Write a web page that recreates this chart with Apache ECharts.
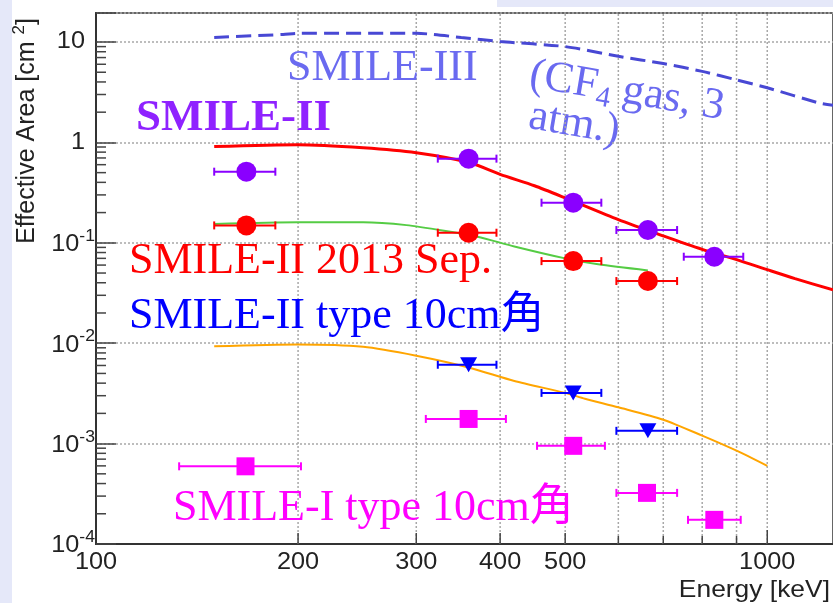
<!DOCTYPE html>
<html>
<head>
<meta charset="utf-8">
<script src="https://cdn.jsdelivr.net/npm/echarts@6/dist/echarts.min.js"></script>
<style>
  html, body { margin: 0; padding: 0; background: #fff; }
  #chart { width: 833px; height: 603px; }
</style>
</head>
<body>
<div id="chart"></div>
<script>
// ---- measured points (energy in keV, horizontal bin edges, effective area in cm^2) ----
const smile2E    = [167.5, 359, 514, 664, 834];
const smile2Lo   = [150, 323, 461, 596, 751];
const smile2Hi   = [185, 395, 566, 734, 921];
const smile2Area = [0.511, 0.689, 0.251, 0.134, 0.0727];

const sepE    = [167.5, 359, 514, 664];
const sepLo   = [150, 323, 461, 596];
const sepHi   = [185, 395, 566, 734];
const sepArea = [0.149, 0.126, 0.0657, 0.0416];

const type10E    = [359, 514, 664];
const type10Lo   = [323, 461, 596];
const type10Hi   = [395, 566, 734];
const type10Area = [0.0061, 0.0032, 0.00134];

const smile1E    = [167, 359, 514, 662, 834];
const smile1Lo   = [133, 310, 454, 596, 762];
const smile1Hi   = [202, 408, 573, 734, 913];
const smile1Area = [0.000594, 0.00176, 0.00095, 0.000323, 0.000174];

// ---- simulated curves ----
const smile3CurveE = [150, 190, 200, 300, 350, 400, 500, 600, 700, 800, 900, 1000, 1200, 1253];
const smile3CurveA = [11.1, 11.9, 12.2, 12.2, 11.1, 10.1, 9.0, 7.2, 6.1, 5.1, 4.2, 3.5, 2.45, 2.35];

const smile2CurveE = [150, 200, 250, 300, 360, 400, 450, 500, 600, 700, 800, 900, 1000, 1100, 1253];
const smile2CurveA = [0.91, 0.95, 0.885, 0.79, 0.63, 0.48, 0.37, 0.28, 0.17, 0.117, 0.086, 0.068, 0.054, 0.044, 0.034];

const sepCurveE = [150, 200, 250, 290, 330, 370, 420, 500, 560, 664];
const sepCurveA = [0.154, 0.16, 0.16, 0.15, 0.132, 0.115, 0.092, 0.07, 0.061, 0.053];

const type10CurveE = [150, 200, 250, 300, 360, 420, 500, 535, 600, 700, 800, 900, 1000];
const type10CurveA = [0.0093, 0.0097, 0.0092, 0.0075, 0.0057, 0.0042, 0.0032, 0.0028, 0.0023, 0.00173, 0.0012, 0.00085, 0.0006];

// ---- axis furniture ----
const xMin = 100, xMax = 1253;
const yMin = 1e-4, yMax = 19.45;
const xTickLabels = [100, 200, 300, 400, 500, 1000];
const xGridValues = [200, 300, 400, 500, 600, 700, 800, 900, 1000];
const xTickLen    = [11, 11, 11, 11, 8, 8, 8, 8, 14];
const yLabelExps  = [-4, -3, -2, -1, 0, 1];
const yDecades    = [-4, -3, -2, -1, 0];
const yMinorSteps = [2, 3, 4, 5, 6, 7, 8, 9];

const SANS = '"Liberation Sans", Arial, sans-serif';
const SERIF = '"Liberation Serif", "Noto Sans CJK JP", serif';
const FRAME = '#333';
const INK = '#222';
const WIDEN = 1.1;   // the sans-serif labels are drawn slightly wide

const zip = (a, b) => a.map((v, i) => [v, b[i]]);

const yMinor = [];
yDecades.forEach(d => yMinorSteps.forEach(s => yMinor.push([xMin, s * Math.pow(10, d)])));

function errorBars(E, lo, hi, area, color) {
  return {
    type: 'custom',
    z: 3,
    encode: { x: [0, 1], y: 2 },
    data: area.map((v, i) => [lo[i], hi[i], v]),
    renderItem(params, api) {
      const a = api.coord([api.value(0), api.value(2)]);
      const b = api.coord([api.value(1), api.value(2)]);
      const st = { stroke: color, lineWidth: 2 };
      const cap = 4;
      return {
        type: 'group',
        children: [
          { type: 'line', shape: { x1: a[0], y1: a[1], x2: b[0], y2: b[1] }, style: st },
          { type: 'line', shape: { x1: a[0], y1: a[1] - cap, x2: a[0], y2: a[1] + cap }, style: st },
          { type: 'line', shape: { x1: b[0], y1: b[1] - cap, x2: b[0], y2: b[1] + cap }, style: st }
        ]
      };
    }
  };
}

function points(E, area, color, symbol, size, rotate) {
  return {
    type: 'scatter', z: 4,
    data: zip(E, area),
    symbol, symbolSize: size, symbolRotate: rotate || 0,
    itemStyle: { color, opacity: 1 },
    emphasis: { disabled: true }
  };
}

function curve(E, A, color, width, dash) {
  return {
    type: 'line', z: 2,
    data: zip(E, A),
    showSymbol: false,
    smooth: 0.25,
    lineStyle: { color, width, type: dash || 'solid', cap: 'butt' },
    emphasis: { disabled: true }
  };
}

const chart = echarts.init(document.getElementById('chart'), null, { renderer: 'canvas' });

chart.setOption({
  animation: false,
  backgroundColor: '#fff',
  grid: {
    left: 96, top: 13, right: -3, bottom: 59,
    show: true, borderColor: '#666', borderWidth: 2
  },
  xAxis: {
    type: 'log', logBase: 10, min: xMin, max: xMax,
    axisLine: { show: true, onZero: false, lineStyle: { color: FRAME, width: 2 } },
    axisTick: { show: false },
    axisLabel: { show: false },
    splitLine: { show: false }
  },
  yAxis: {
    type: 'log', logBase: 10, min: yMin, max: yMax,
    axisLine: { show: true, onZero: false, lineStyle: { color: FRAME, width: 2 } },
    axisTick: { show: true, inside: true, length: 20, lineStyle: { color: '#444', width: 1.5 } },
    splitLine: { show: true, lineStyle: { color: '#a8a8a8', width: 1.5, type: [2, 2] } },
    axisLabel: { show: false }
  },
  graphic: [
    { type: 'rect', z: -10, shape: { x: 0, y: 0, width: 12, height: 603 }, style: { fill: '#e5e8f9' } },
    { type: 'rect', z: -10, shape: { x: 497, y: 0, width: 336, height: 7 }, style: { fill: '#e5e8f9' } },
    {
      type: 'text', x: 27, y: 131, rotation: Math.PI / 2,
      style: {
        text: '{a|Effective Area [cm }{s|2}{a|]}',
        align: 'center', verticalAlign: 'middle',
        rich: {
          a: { fontFamily: SANS, fontSize: 25, fill: INK },
          s: { fontFamily: SANS, fontSize: 17, fill: INK, padding: [0, 0, 16, 0] }
        }
      }
    },
    {
      type: 'text', x: 830, y: 590, scaleX: WIDEN,
      style: { text: 'Energy [keV]', fontFamily: SANS, fontSize: 24, fill: INK, align: 'right', verticalAlign: 'middle' }
    },
    {
      type: 'text', x: 287, y: 68, z: 10,
      style: { text: 'SMILE-III', fontFamily: SERIF, fontSize: 44, fill: '#6a6af0', align: 'left', verticalAlign: 'middle' }
    },
    {
      type: 'group', x: 530, y: 75, rotation: -0.168, z: 10,
      children: [
        {
          type: 'text', x: 0, y: 0,
          style: {
            text: '{a|(CF}{s|4}{a| gas, 3}',
            align: 'left', verticalAlign: 'middle',
            rich: {
              a: { fontFamily: SERIF, fontSize: 44, fill: '#6a6af0' },
              s: { fontFamily: SERIF, fontSize: 29, fill: '#6a6af0', padding: [22, 0, 0, 0] }
            }
          }
        },
        {
          type: 'text', x: 6, y: 41,
          style: { text: 'atm.)', fontFamily: SERIF, fontSize: 44, fill: '#6a6af0', align: 'left', verticalAlign: 'middle' }
        }
      ]
    },
    {
      type: 'text', x: 136, y: 118, z: 10,
      style: { text: 'SMILE-II', fontFamily: SERIF, fontWeight: 'bold', fontSize: 45, fill: '#8f22ff', align: 'left', verticalAlign: 'middle' }
    },
    {
      type: 'text', x: 129, y: 261, z: 10,
      style: { text: 'SMILE-II 2013 Sep.', fontFamily: SERIF, fontSize: 44, fill: '#ff0000', align: 'left', verticalAlign: 'middle' }
    },
    {
      type: 'text', x: 129, y: 316, z: 10,
      style: { text: 'SMILE-II type 10cm角', fontFamily: SERIF, fontSize: 44, fill: '#0000ff', align: 'left', verticalAlign: 'middle' }
    },
    {
      type: 'text', x: 173, y: 508, z: 10,
      style: { text: 'SMILE-I type 10cm角', fontFamily: SERIF, fontSize: 44, fill: '#ff00ff', align: 'left', verticalAlign: 'middle' }
    }
  ],
  series: [
    // vertical dotted grid lines and bottom ticks
    {
      type: 'custom', z: 1, silent: true,
      encode: { x: 0, y: 1 },
      data: xGridValues.map((e, i) => [e, yMin, xTickLen[i]]),
      renderItem(params, api) {
        const cs = params.coordSys;
        const x = api.coord([api.value(0), yMin])[0];
        const yb = cs.y + cs.height;
        return {
          type: 'group',
          children: [
            { type: 'line', shape: { x1: x, y1: yb, x2: x, y2: cs.y }, style: { stroke: '#a8a8a8', lineWidth: 1.5, lineDash: [2, 2] } },
            { type: 'line', shape: { x1: x, y1: yb, x2: x, y2: yb - api.value(2) }, style: { stroke: '#444', lineWidth: 1.5 } }
          ]
        };
      }
    },
    // bottom tick labels
    {
      type: 'custom', z: 1, silent: true,
      encode: { x: 0, y: 1 },
      data: xTickLabels.map(e => [e, yMin]),
      renderItem(params, api) {
        const cs = params.coordSys;
        const x = api.coord([api.value(0), yMin])[0];
        return {
          type: 'text', x: x, y: cs.y + cs.height + 19, scaleX: WIDEN,
          style: { text: String(api.value(0)), fontFamily: SANS, fontSize: 23, fill: INK, align: 'center', verticalAlign: 'middle' }
        };
      }
    },
    // left tick labels (powers of ten)
    {
      type: 'custom', z: 1, silent: true,
      encode: { x: 0, y: 1 },
      data: yLabelExps.map(e => [xMin, Math.pow(10, e), e]),
      renderItem(params, api) {
        const cs = params.coordSys;
        const y = api.coord([xMin, api.value(1)])[1];
        const e = api.value(2);
        const plain = e === 0 || e === 1;
        const text = plain ? '{b|' + (e === 0 ? '1' : '10') + '}' : '{b|10}{s|' + e + '}';
        return {
          type: 'text', x: plain ? cs.x - 11 : cs.x - 1, y: plain ? y : y + 2, scaleX: WIDEN,
          style: {
            text, align: 'right', verticalAlign: 'middle',
            rich: {
              b: { fontFamily: SANS, fontSize: 23, fill: INK },
              s: { fontFamily: SANS, fontSize: 16, fill: INK, padding: [0, 0, 17, 0] }
            }
          }
        };
      }
    },
    // minor ticks on the left axis
    {
      type: 'custom', z: 1, silent: true,
      encode: { x: 0, y: 1 },
      data: yMinor,
      renderItem(params, api) {
        const cs = params.coordSys;
        const y = api.coord([xMin, api.value(1)])[1];
        return { type: 'line', shape: { x1: cs.x, y1: y, x2: cs.x + 10, y2: y }, style: { stroke: '#444', lineWidth: 1.5 } };
      }
    },
    curve(smile3CurveE, smile3CurveA, '#4848d4', 3, [15, 7]),
    curve(smile2CurveE, smile2CurveA, '#ff0000', 3),
    curve(sepCurveE, sepCurveA, '#55cc44', 2),
    curve(type10CurveE, type10CurveA, '#ffa500', 2),
    errorBars(smile2E, smile2Lo, smile2Hi, smile2Area, '#8a00ff'),
    errorBars(sepE, sepLo, sepHi, sepArea, '#ff0000'),
    errorBars(type10E, type10Lo, type10Hi, type10Area, '#0000ff'),
    errorBars(smile1E, smile1Lo, smile1Hi, smile1Area, '#ff00ff'),
    points(smile2E, smile2Area, '#8a00ff', 'circle', 20),
    points(sepE, sepArea, '#ff0000', 'circle', 20),
    points(type10E, type10Area, '#0000ff', 'triangle', [17, 15], 180),
    points(smile1E, smile1Area, '#ff00ff', 'rect', 18)
  ]
});
</script>
</body>
</html>
